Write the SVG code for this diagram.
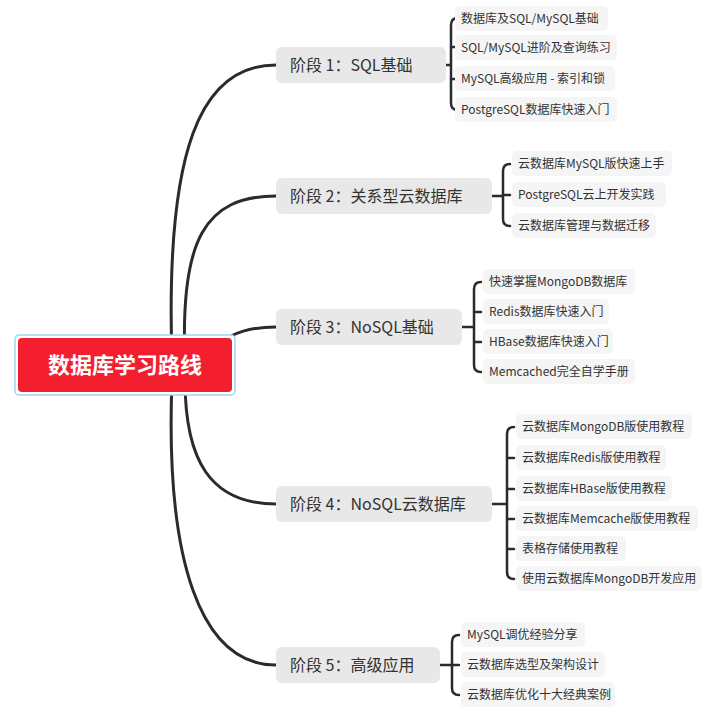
<svg xmlns="http://www.w3.org/2000/svg" width="720" height="714" viewBox="0 0 720 714">
<style>
.c{fill:none;stroke:#2b2b2b;stroke-width:3;stroke-linecap:round}
.b{fill:none;stroke:#2b2b2b;stroke-width:2.5;stroke-linecap:round;stroke-linejoin:round}
.s rect{fill:#e8e8e8}
.s text{font-family:"Noto Sans CJK SC","Noto Sans",sans-serif;font-size:16px;fill:#333}
.l rect{fill:#f5f5f5}
.l text{font-family:"Noto Sans CJK SC","Noto Sans",sans-serif;font-size:12px;fill:#333}
</style>
<rect width="720" height="714" fill="#fff"/>
<g id="connectors">
<path class="c" d="M172,360 C165,150 200,65 276,65"/>
<path class="c" d="M185,360 C180,240 205,196 276,196"/>
<path class="c" d="M215,345 C235,332 250,327 276,327"/>
<path class="c" d="M185,380 C185,460 210,504 276,504"/>
<path class="c" d="M172,380 C165,560 200,665 276,665"/>
<path class="b" d="M446,65 H451 M458,18 Q451,18 451,25 V103 Q451,110 458,110 M451,47 H458 M451,79 H458"/>
<path class="b" d="M492,196 H503 M510,164 Q503,164 503,171 V219 Q503,226 510,226 M503,195 H510"/>
<path class="b" d="M462,327 H474 M481,282 Q474,282 474,289 V365 Q474,372 481,372 M474,312 H481 M474,342 H481"/>
<path class="b" d="M492,504 H507 M514,427 Q507,427 507,434 V572 Q507,579 514,579 M507,458 H514 M507,489 H514 M507,519 H514 M507,549 H514"/>
<path class="b" d="M440,665 H452 M459,635 Q452,635 452,642 V688 Q452,695 459,695 M452,665 H459"/>
</g>
<g id="root">
<rect x="15" y="335" width="220" height="60" rx="4" fill="#fff" stroke="#9fd6f3" stroke-width="1.5"/>
<rect x="18" y="338" width="214" height="54" rx="4" fill="#f31f2e"/>
<text x="125" y="373" text-anchor="middle" font-family="Noto Sans CJK SC,sans-serif" font-size="22" font-weight="bold" fill="#fff">数据库学习路线</text>
</g>
<g id="stage1" class="s"><rect x="276" y="47" width="170" height="36" rx="6"/><text x="290" y="71">阶段 1：SQL基础</text></g>
<g id="stage2" class="s"><rect x="276" y="178" width="216" height="36" rx="6"/><text x="290" y="202">阶段 2：关系型云数据库</text></g>
<g id="stage3" class="s"><rect x="276" y="309" width="186" height="36" rx="6"/><text x="290" y="333">阶段 3：NoSQL基础</text></g>
<g id="stage4" class="s"><rect x="276" y="486" width="216" height="36" rx="6"/><text x="290" y="510">阶段 4：NoSQL云数据库</text></g>
<g id="stage5" class="s"><rect x="276" y="647" width="164" height="36" rx="6"/><text x="290" y="671">阶段 5：高级应用</text></g>
<g id="l1a" class="l"><rect x="455" y="6" width="153" height="25" rx="5"/><text x="461" y="23">数据库及SQL/MySQL基础</text></g>
<g id="l1b" class="l"><rect x="455" y="35" width="162" height="25" rx="5"/><text x="461" y="52">SQL/MySQL进阶及查询练习</text></g>
<g id="l1c" class="l"><rect x="455" y="66" width="160" height="25" rx="5"/><text x="461" y="83">MySQL高级应用 - 索引和锁</text></g>
<g id="l1d" class="l"><rect x="455" y="97" width="162" height="25" rx="5"/><text x="461" y="114">PostgreSQL数据库快速入门</text></g>
<g id="l2a" class="l"><rect x="512" y="151" width="160" height="25" rx="5"/><text x="518" y="168">云数据库MySQL版快速上手</text></g>
<g id="l2b" class="l"><rect x="512" y="182" width="154" height="25" rx="5"/><text x="518" y="199">PostgreSQL云上开发实践</text></g>
<g id="l2c" class="l"><rect x="512" y="213" width="144" height="25" rx="5"/><text x="518" y="230">云数据库管理与数据迁移</text></g>
<g id="l3a" class="l"><rect x="483" y="269" width="152" height="25" rx="5"/><text x="489" y="286">快速掌握MongoDB数据库</text></g>
<g id="l3b" class="l"><rect x="483" y="299" width="126" height="25" rx="5"/><text x="489" y="316">Redis数据库快速入门</text></g>
<g id="l3c" class="l"><rect x="483" y="329" width="130" height="25" rx="5"/><text x="489" y="346">HBase数据库快速入门</text></g>
<g id="l3d" class="l"><rect x="483" y="359" width="152" height="25" rx="5"/><text x="489" y="376">Memcached完全自学手册</text></g>
<g id="l4a" class="l"><rect x="516" y="414" width="176" height="25" rx="5"/><text x="522" y="431">云数据库MongoDB版使用教程</text></g>
<g id="l4b" class="l"><rect x="516" y="445" width="150" height="25" rx="5"/><text x="522" y="462">云数据库Redis版使用教程</text></g>
<g id="l4c" class="l"><rect x="516" y="476" width="156" height="25" rx="5"/><text x="522" y="493">云数据库HBase版使用教程</text></g>
<g id="l4d" class="l"><rect x="516" y="506" width="182" height="25" rx="5"/><text x="522" y="523">云数据库Memcache版使用教程</text></g>
<g id="l4e" class="l"><rect x="516" y="536" width="110" height="25" rx="5"/><text x="522" y="553">表格存储使用教程</text></g>
<g id="l4f" class="l"><rect x="516" y="566" width="186" height="25" rx="5"/><text x="522" y="583">使用云数据库MongoDB开发应用</text></g>
<g id="l5a" class="l"><rect x="461" y="622" width="124" height="25" rx="5"/><text x="467" y="639">MySQL调优经验分享</text></g>
<g id="l5b" class="l"><rect x="461" y="652" width="144" height="25" rx="5"/><text x="467" y="669">云数据库选型及架构设计</text></g>
<g id="l5c" class="l"><rect x="461" y="682" width="154" height="25" rx="5"/><text x="467" y="699">云数据库优化十大经典案例</text></g>
</svg>
